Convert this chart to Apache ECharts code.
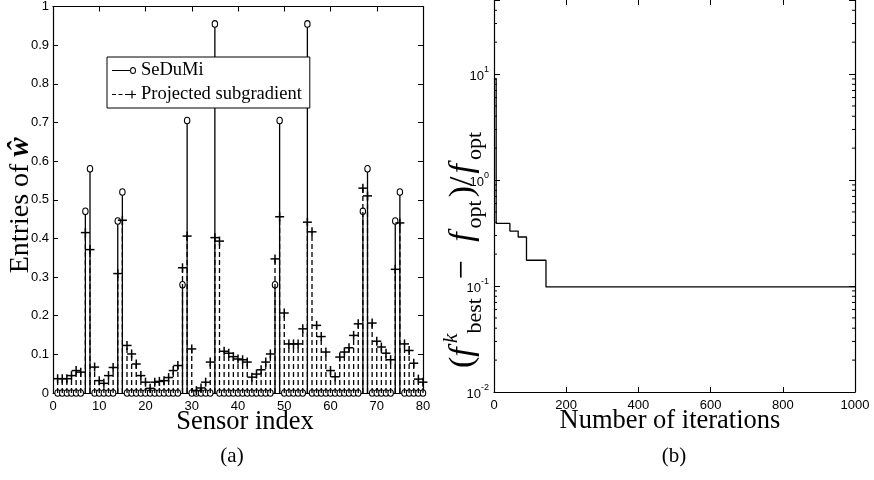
<!DOCTYPE html>
<html><head><meta charset="utf-8">
<script src="https://cdn.jsdelivr.net/npm/echarts@6/dist/echarts.min.js"></script>
<style>html,body{margin:0;padding:0;background:#fff}#c{width:874px;height:480px}</style>
</head><body><div id="c"></div><script>
// ---------- data: panel (a) ----------
const sensorIndex = [1,2,3,4,5,6,7,8,9,10,11,12,13,14,15,16,17,18,19,20,
  21,22,23,24,25,26,27,28,29,30,31,32,33,34,35,36,37,38,39,40,
  41,42,43,44,45,46,47,48,49,50,51,52,53,54,55,56,57,58,59,60,
  61,62,63,64,65,66,67,68,69,70,71,72,73,74,75,76,77,78,79,80];
const sedumi = [0,0,0,0,0,0,0.47,0.58,0,0,0,0,0,0.445,0.52,0,0,0,0,0,
  0,0,0,0,0,0,0,0.28,0.705,0,0,0,0,0,0.955,0,0,0,0,0,
  0,0,0,0,0,0,0,0.28,0.705,0,0,0,0,0,0.955,0,0,0,0,0,
  0,0,0,0,0,0,0.47,0.58,0,0,0,0,0,0.445,0.52,0,0,0,0,0];
const projected = [0.037,0.037,0.037,0.045,0.058,0.054,0.415,0.371,0.067,0.032,
  0.025,0.045,0.066,0.309,0.447,0.123,0.101,0.075,0.045,0.028,
  0.012,0.028,0.030,0.032,0.040,0.058,0.071,0.324,0.406,0.114,
  0.006,0.013,0.028,0.080,0.402,0.393,0.108,0.103,0.094,0.088,
  0.086,0.080,0.041,0.049,0.060,0.080,0.101,0.347,0.456,0.207,
  0.127,0.127,0.127,0.166,0.442,0.417,0.175,0.146,0.106,0.058,
  0.042,0.093,0.106,0.117,0.149,0.179,0.530,0.510,0.181,0.134,
  0.119,0.103,0.086,0.320,0.440,0.127,0.110,0.077,0.036,0.028];
// ---------- data: panel (b) ----------
const iterations = [0, 6, 44, 67, 90, 144, 1000];
const relGap = [9.0, 0.39, 0.33, 0.29, 0.175, 0.098, 0.098];
const logMinorTicks = [0.02,0.03,0.04,0.05,0.06,0.07,0.08,0.09,
  0.2,0.3,0.4,0.5,0.6,0.7,0.8,0.9, 2,3,4,5,6,7,8,9, 20,30,40];

const SANS = 'Liberation Sans';
const SERIF = 'Liberation Serif';
const chart = echarts.init(document.getElementById('c'), null, {renderer:'canvas'});

function stem(name, values, dashed, marker) {
  return {
    type:'custom', name, xAxisIndex:0, yAxisIndex:0, clip:false, silent:true, z:dashed?3:2,
    data: sensorIndex.map((s,i)=>[s, values[i]]),
    renderItem(params, api) {
      const x = api.value(0), v = api.value(1);
      const p0 = api.coord([x, 0]), p1 = api.coord([x, v]);
      const ch = [];
      if (v > 0) ch.push({type:'line', shape:{x1:p0[0],y1:p0[1],x2:p1[0],y2:p1[1]},
        style:{stroke:'#000', lineWidth:1.3, lineDash: dashed?[5,3]:null}});
      if (marker === 'o') ch.push({type:'ellipse', shape:{cx:p1[0], cy:p1[1], rx:2.7, ry:3.3},
        style:{stroke:'#000', fill:'#fff', lineWidth:1.1}});
      else {
        ch.push({type:'line', shape:{x1:p1[0]-4.5,y1:p1[1],x2:p1[0]+4.5,y2:p1[1]}, style:{stroke:'#000', lineWidth:1.5}});
        ch.push({type:'line', shape:{x1:p1[0],y1:p1[1]-4.5,x2:p1[0],y2:p1[1]+4.5}, style:{stroke:'#000', lineWidth:1.5}});
      }
      return {type:'group', children:ch};
    }
  };
}

const tickStyle = {show:true, inside:true, length:5, lineStyle:{color:'#000', width:1}};
const lineStyle = {show:true, onZero:false, lineStyle:{color:'#000', width:1.2}};
const lblStyle = {color:'#000', fontFamily:SANS, fontSize:13};
const plainFmt = v => String(v);

function supFmt(val) {
  const e = Math.round(Math.log10(val));
  if (Math.abs(val - Math.pow(10, e)) > 1e-6 * val) return '';
  return '{b|10}{s|' + (e < 0 ? '-' + (-e) : e) + '}';
}

const iconSeDuMi = 'path://M0,3.5H18.2V4.5H0Z M24,4A3,3.5 0 1 0 18,4A3,3.5 0 1 0 24,4Z M23,4A2,2.5 0 1 1 19,4A2,2.5 0 1 1 23,4Z';
const iconProj = 'path://M0,3.5H4V4.5H0Z M6.5,3.5H10.5V4.5H6.5Z M13,3.5H16V4.5H13Z M16,3.4H24V4.6H16Z M19.4,0H20.6V8H19.4Z';

const option = {
  animation:false,
  backgroundColor:'#fff',
  grid:[
    {left:53, top:6, width:370, height:387},
    {left:494, top:-2, width:361, height:394}
  ],
  legend:{
    data:[{name:'SeDuMi', icon:iconSeDuMi}, {name:'Projected subgradient', icon:iconProj}],
    left:107, top:57, orient:'vertical',
    itemGap:5, itemWidth:24, itemHeight:10, padding:[4,8,4,5],
    borderColor:'#000', borderWidth:1, backgroundColor:'#fff', selectedMode:false,
    itemStyle:{color:'#000'},
    textStyle:{fontFamily:SERIF, fontSize:18.5, color:'#000'}
  },
  xAxis:[
    {type:'value', gridIndex:0, min:0, max:80, interval:10, axisLine:lineStyle, axisTick:tickStyle,
     splitLine:{show:false}, axisLabel:Object.assign({margin:7, formatter:plainFmt}, lblStyle),
     name:'Sensor index', nameLocation:'middle', nameGap:16, nameMoveOverlap:false,
     nameTextStyle:{fontFamily:SERIF, fontSize:26.5, color:'#000', padding:[0,0,0,14]}},
    {type:'value', gridIndex:0, position:'top', min:0, max:80, interval:10, axisLine:lineStyle,
     axisTick:tickStyle, splitLine:{show:false}, axisLabel:{show:false}},
    {type:'value', gridIndex:1, min:0, max:1000, interval:200, axisLine:lineStyle, axisTick:tickStyle,
     splitLine:{show:false}, axisLabel:Object.assign({margin:7, formatter:plainFmt}, lblStyle),
     name:'Number of iterations', nameLocation:'middle', nameGap:16, nameMoveOverlap:false,
     nameTextStyle:{fontFamily:SERIF, fontSize:26.5, color:'#000', padding:[0,9,0,0]}},
    {type:'value', gridIndex:1, position:'top', min:0, max:1000, interval:200,
     axisLine:{show:false}, axisTick:tickStyle, splitLine:{show:false}, axisLabel:{show:false}}
  ],
  yAxis:[
    {type:'value', gridIndex:0, min:0, max:1, interval:0.1, axisLine:lineStyle, axisTick:tickStyle,
     splitLine:{show:false}, axisLabel:Object.assign({margin:4}, lblStyle),
     name:'Entries of {w|ŵ}', nameLocation:'middle', nameGap:18, nameMoveOverlap:false,
     nameTextStyle:{fontFamily:SERIF, fontSize:28, color:'#000', padding:[0,11,0,0],
       rich:{w:{fontFamily:SERIF, fontSize:29, fontStyle:'italic', fontWeight:'bold', color:'#000'}}}},
    {type:'value', gridIndex:0, position:'right', min:0, max:1, interval:0.1, axisLine:lineStyle,
     axisTick:tickStyle, splitLine:{show:false}, axisLabel:{show:false}},
    {type:'log', gridIndex:1, min:0.01, max:50, logBase:10, axisLine:lineStyle,
     axisTick:Object.assign({}, tickStyle, {length:6}), splitLine:{show:false},
     axisLabel:{margin:5, formatter:supFmt,
       rich:{b:{fontFamily:SANS, fontSize:13, color:'#000', lineHeight:18, verticalAlign:'bottom'},
             s:{fontFamily:SANS, fontSize:9, color:'#000', lineHeight:18, verticalAlign:'top'}}}},
    {type:'log', gridIndex:1, position:'right', min:0.01, max:50, logBase:10,
     axisLine:{show:true, onZero:false, lineStyle:{color:'#000', width:1.2}},
     axisTick:Object.assign({}, tickStyle, {length:6}), splitLine:{show:false}, axisLabel:{show:false}}
  ],
  graphic:[
    {type:'text', x:463, y:250, rotation:Math.PI/2,
     style:{text:'({i|f}{sup|k}{sub|best}{m| − }{i|f}{sub|opt}{p|)/}{i|f}{sub|opt}',
       fontFamily:SERIF, fontSize:34, fill:'#000', align:'center', verticalAlign:'middle',
       rich:{
         i:{fontFamily:SERIF, fontStyle:'italic', fontSize:34, lineHeight:46, padding:[0,4,0,0]},
         m:{fontFamily:SERIF, fontSize:34, lineHeight:46, padding:[0,10,0,10]},
         p:{fontFamily:SERIF, fontSize:34, lineHeight:46, padding:[0,3,0,3]},
         sup:{fontFamily:SERIF, fontStyle:'italic', fontSize:22, lineHeight:46, verticalAlign:'top'},
         sub:{fontFamily:SERIF, fontSize:22, lineHeight:46, verticalAlign:'bottom'}
       }}},
    {type:'text', x:232, y:456, style:{text:'(a)', fontFamily:SERIF, fontSize:21, fill:'#000', align:'center', verticalAlign:'middle'}},
    {type:'text', x:674, y:456, style:{text:'(b)', fontFamily:SERIF, fontSize:21, fill:'#000', align:'center', verticalAlign:'middle'}}
  ],
  series:[
    {type:'line', name:'SeDuMi', data:[], xAxisIndex:0, yAxisIndex:0, symbol:'none',
     lineStyle:{color:'#000', width:1}, itemStyle:{color:'#000'}},
    {type:'line', name:'Projected subgradient', data:[], xAxisIndex:0, yAxisIndex:0, symbol:'none',
     lineStyle:{color:'#000', width:1, type:'dashed'}, itemStyle:{color:'#000'}},
    stem('stemSeDuMi', sedumi, false, 'o'),
    stem('stemProjected', projected, true, '+'),
    {type:'line', name:'gap', xAxisIndex:2, yAxisIndex:2, step:'end', symbol:'none',
     data: iterations.map((t,i)=>[t, relGap[i]]), lineStyle:{color:'#000', width:1.3}, silent:true},
    {type:'custom', name:'minorTicks', xAxisIndex:2, yAxisIndex:2, silent:true, clip:false,
     data: logMinorTicks.map(v=>[v]),
     renderItem(params, api) {
       const v = api.value(0);
       const l = api.coord([0, v]), r = api.coord([1000, v]);
       return {type:'group', children:[
         {type:'line', shape:{x1:l[0], y1:l[1], x2:l[0]+3, y2:l[1]}, style:{stroke:'#000', lineWidth:1}},
         {type:'line', shape:{x1:r[0]-3, y1:r[1], x2:r[0], y2:r[1]}, style:{stroke:'#000', lineWidth:1}}
       ]};
     }}
  ]
};
chart.setOption(option);
</script></body></html>
